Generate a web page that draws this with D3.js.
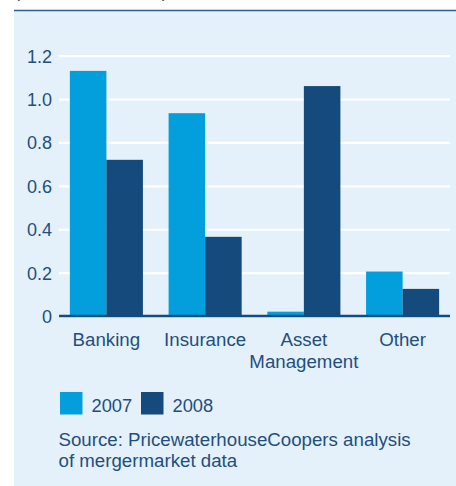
<!DOCTYPE html>
<html>
<head>
<meta charset="utf-8">
<script src="https://cdn.jsdelivr.net/npm/d3@7"></script>
<style>
  html, body { margin: 0; padding: 0; background: #ffffff; }
  svg text { font-family: "Liberation Sans", Arial, Helvetica, sans-serif; fill: #1f4e80; }
</style>
</head>
<body>
<svg id="chart" width="456" height="486"></svg>
<script>
// Chart data.
const categories = [ [ 'Banking' ], [ 'Insurance' ], [ 'Asset', 'Management' ], [ 'Other' ] ];
const seriesNames = [ '2007', '2008' ];
const values2007 = [ 1.13, 0.935, 0.02, 0.205 ];
const values2008 = [ 0.72, 0.365, 1.06, 0.125 ];
const yTicks     = [ 0, 0.2, 0.4, 0.6, 0.8, 1.0, 1.2 ];
const sourceLines = [ 'Source: PricewaterhouseCoopers analysis', 'of mergermarket data' ];

// Colours.
const colors = [ '#039fdc', '#144a7c' ];

const svg = d3.select( '#chart' );

// Background panel and top rule.
svg.append( 'rect' )
  .attr( 'x', 14 ).attr( 'y', 10 )
  .attr( 'width', 442 ).attr( 'height', 476 )
  .attr( 'fill', '#e4f1fa' );
svg.append( 'line' )
  .attr( 'x1', 14 ).attr( 'x2', 456 )
  .attr( 'y1', 10.5 ).attr( 'y2', 10.5 )
  .attr( 'stroke', '#2b5e98' ).attr( 'stroke-width', 1.5 );
// Heading, cut off at the top of the picture (only the brackets peek through).
svg.append( 'text' )
  .attr( 'x', 14 ).attr( 'y', 1 )
  .attr( 'dominant-baseline', 'text-after-edge' )
  .style( 'font-size', '18px' )
  .text( '(Value, US$ trillion)' );

// Scales.
const keys = categories.map( c => c.join( ' ' ) );
const x = d3.scaleBand( )
  .domain( keys )
  .range( [ 59, 450 ] )
  .paddingInner( 0.26 )
  .paddingOuter( 0.11 );
const xs = d3.scaleBand( )
  .domain( seriesNames )
  .range( [ 0, x.bandwidth( ) ] );
const y = d3.scaleLinear( )
  .domain( [ 0, 1.2 ] )
  .range( [ 316, 55.7 ] );

// Gridlines and tick labels.
const yAxis = d3.axisLeft( y )
  .tickValues( yTicks )
  .tickSize( -( 450 - 59 ) )
  .tickPadding( 7 )
  .tickFormat( d => d === 0 ? '0' : d3.format( '.1f' )( d ) );
const yg = svg.append( 'g' )
  .attr( 'transform', 'translate( 59, 0 )' )
  .call( yAxis );
yg.select( '.domain' ).remove( );
yg.selectAll( '.tick line' )
  .attr( 'stroke', '#ffffff' )
  .attr( 'stroke-width', 2.2 );
yg.selectAll( '.tick text' )
  .attr( 'fill', '#1f4e80' )
  .attr( 'x', -7 )
  .style( 'font-size', '18px' )
  .attr( 'dy', '0.36em' );

// Bars.
const groups = svg.append( 'g' ).selectAll( 'g' )
  .data( keys )
  .enter( ).append( 'g' )
    .attr( 'transform', d => `translate( ${x( d )}, 0 )` );
groups.selectAll( 'rect' )
  .data( ( d, i ) => [ values2007[i], values2008[i] ].map( ( v, j ) => ( { v, s: seriesNames[j], j } ) ) )
  .enter( ).append( 'rect' )
    .attr( 'x', d => xs( d.s ) )
    .attr( 'width', xs.bandwidth( ) )
    .attr( 'y', d => y( d.v ) )
    .attr( 'height', d => y( 0 ) - y( d.v ) )
    .attr( 'fill', d => colors[d.j] );

// Baseline.
svg.append( 'line' )
  .attr( 'x1', 59 ).attr( 'x2', 450 )
  .attr( 'y1', y( 0 ) ).attr( 'y2', y( 0 ) )
  .attr( 'stroke', '#144a7c' ).attr( 'stroke-width', 2.5 );

// Category labels.
const labels = svg.append( 'g' ).selectAll( 'text' )
  .data( categories )
  .enter( ).append( 'text' )
    .attr( 'text-anchor', 'middle' )
    .style( 'font-size', '18.7px' );
labels.selectAll( 'tspan' )
  .data( ( d, i ) => d.map( line => ( { line, key: keys[i] } ) ) )
  .enter( ).append( 'tspan' )
    .attr( 'x', d => x( d.key ) + x.bandwidth( ) / 2 )
    .attr( 'y', ( d, i ) => 346 + i * 21.5 )
    .text( d => d.line );

// Legend.
const legend = svg.append( 'g' ).selectAll( 'g' )
  .data( seriesNames )
  .enter( ).append( 'g' )
    .attr( 'transform', ( d, i ) => `translate( ${60 + i * 81}, 392 )` );
legend.append( 'rect' )
  .attr( 'width', 22.5 ).attr( 'height', 22.5 )
  .attr( 'fill', ( d, i ) => colors[i] );
legend.append( 'text' )
  .attr( 'x', 31.5 ).attr( 'y', 20 )
  .style( 'font-size', '18.3px' )
  .text( d => d );

// Source note.
svg.append( 'g' ).selectAll( 'text' )
  .data( sourceLines )
  .enter( ).append( 'text' )
    .attr( 'x', 58.5 )
    .attr( 'y', ( d, i ) => 446 + i * 21 )
    .style( 'font-size', '18.7px' )
    .text( d => d );
</script>
</body>
</html>
